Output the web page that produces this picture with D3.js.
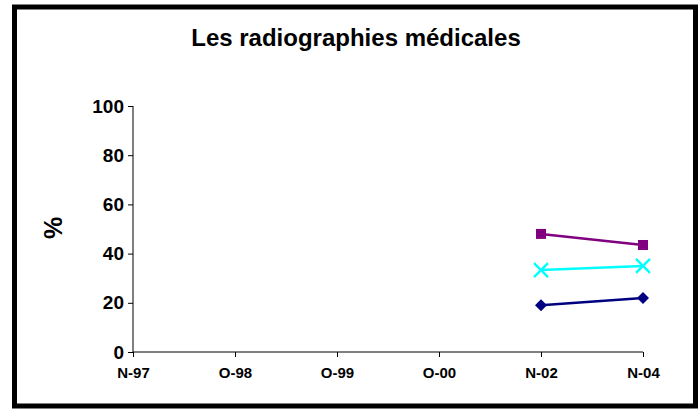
<!DOCTYPE html>
<html>
<head>
<meta charset="utf-8">
<script src="https://cdn.jsdelivr.net/npm/d3@7"></script>
<style>
  body { margin: 0; background: #fff; }
  text { font-family: "Liberation Sans", Arial, sans-serif; font-weight: bold; }
</style>
</head>
<body>
<svg id="chart" width="699" height="409"></svg>
<script>
// Chart data
let categories = ["N-97", "O-98", "O-99", "O-00", "N-02", "N-04"];
let yTicks = [0, 20, 40, 60, 80, 100];
let seriesSquare = [null, null, null, null, 48, 43.5];
let seriesCross = [null, null, null, null, 33.3, 35];
let seriesDiamond = [null, null, null, null, 19, 22];

let svg = d3.select("#chart");

// frame
svg.append("rect")
    .attr("x", 14.5).attr("y", 7)
    .attr("width", 681).attr("height", 399)
    .attr("fill", "none")
    .attr("stroke", "#000")
    .attr("stroke-width", 5);

let xScale = d3.scalePoint()
    .domain(categories)
    .range([133, 643]);

let yScale = d3.scaleLinear()
    .domain([0, 100])
    .range([352, 106]);

// y axis
let yAxis = svg.append("g")
    .attr("transform", "translate(133,0)")
    .attr("font-size", null)
    .call(d3.axisLeft(yScale).tickValues(yTicks).tickSize(5).tickPadding(4));
yAxis.attr("font-size", null).attr("font-family", null);
yAxis.selectAll("text").style("font-size", "19px").attr("fill", "#000");
yAxis.selectAll("line, path").attr("stroke", "#000");
yAxis.select("path").attr("d", "M0,106V352");

// x axis
let xAxis = svg.append("g")
    .attr("transform", "translate(0,352)")
    .call(d3.axisBottom(xScale).tickSize(5).tickPadding(10));
xAxis.attr("font-size", null).attr("font-family", null);
xAxis.selectAll("text").style("font-size", "15px").attr("fill", "#000");
xAxis.selectAll("line, path").attr("stroke", "#000");
xAxis.select("path").attr("d", "M133,0H643");

// titles
svg.append("text")
    .attr("x", 356).attr("y", 46)
    .attr("text-anchor", "middle")
    .style("font-size", "24px")
    .text("Les radiographies médicales");

svg.append("text")
    .attr("transform", "translate(62,228) rotate(-90)")
    .attr("text-anchor", "middle")
    .style("font-size", "25px")
    .text("%");

let line = d3.line()
    .defined(d => d.v != null)
    .x(d => xScale(d.c))
    .y(d => yScale(d.v));

function toPoints(values) {
    return values.map((v, i) => ({ c: categories[i], v: v }));
}

function drawSeries(values, color, marker) {
    let pts = toPoints(values);
    svg.append("path")
        .datum(pts)
        .attr("fill", "none")
        .attr("stroke", color)
        .attr("stroke-width", 2.5)
        .attr("d", line);
    let g = svg.append("g");
    pts.filter(d => d.v != null).forEach(d => {
        let x = xScale(d.c), y = yScale(d.v);
        if (marker === "square") {
            g.append("rect").attr("x", x - 5).attr("y", y - 5)
                .attr("width", 10).attr("height", 10).attr("fill", color);
        } else if (marker === "diamond") {
            g.append("path")
                .attr("d", `M${x},${y - 6}L${x + 6},${y}L${x},${y + 6}L${x - 6},${y}Z`)
                .attr("fill", color);
        } else {
            g.append("path")
                .attr("d", `M${x - 7},${y - 7}L${x + 7},${y + 7}M${x - 7},${y + 7}L${x + 7},${y - 7}`)
                .attr("stroke", color).attr("stroke-width", 2.5);
        }
    });
}

drawSeries(seriesSquare, "#800080", "square");
drawSeries(seriesCross, "#00ffff", "cross");
drawSeries(seriesDiamond, "#000080", "diamond");
</script>
</body>
</html>
